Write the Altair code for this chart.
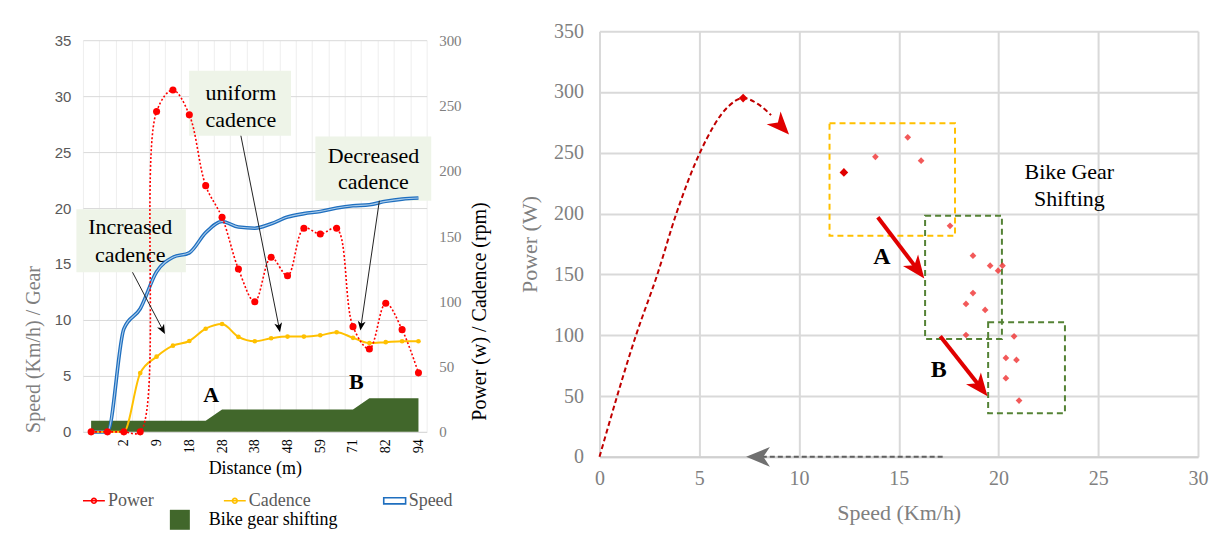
import math
import altair as alt
import pandas as pd

SERIF = "Liberation Serif"
SANS = "Liberation Sans"

# ---------------- Left panel: values per distance category ----------------
dist_labels = ["", "", "2", "", "9", "", "18", "", "28", "", "38", "", "48", "", "59", "", "71", "", "82", "", "94"]
speed_kmh = [0, 0, 9.2, 11.0, 14.3, 15.6, 16.0, 17.8, 18.8, 18.3, 18.2, 18.6, 19.2, 19.5, 19.7, 20.0, 20.2, 20.3, 20.6, 20.8, 20.9]
cadence_rpm = [0, 0, 0, 45, 57.6, 66, 69.6, 79, 82.6, 72.7, 69.4, 71.7, 73, 73, 74, 76.3, 72, 68, 68.7, 69.4, 69.4]
power_w = [0, 0, 0, 0, 245.4, 261.8, 242.8, 188.6, 164.3, 124.7, 99.7, 133.7, 119.6, 155.9, 151.5, 155.9, 80.6, 63.5, 98.5, 78.3, 45.2]
gear_level = [1, 1, 1, 1, 1, 1, 1, 1, 2, 2, 2, 2, 2, 2, 2, 2, 2, 3, 3, 3, 3]
pc_names = ["Power", "Cadence"]
speed_name = "Speed"
gear_name = "Bike gear shifting"

# left annotations (category index / left-axis units)
note_box_x1 = [-0.9, 5.99, 13.7]
note_box_x2 = [5.79, 12.21, 20.78]
note_box_y1 = [14.26, 26.46, 20.65]
note_box_y2 = [19.9, 32.26, 26.4]
note_text = ["Increased", "cadence", "uniform", "cadence", "Decreased", "cadence"]
note_text_x = [2.39, 2.39, 9.15, 9.15, 17.25, 17.25]
note_text_y = [18.3, 15.8, 30.27, 27.86, 24.67, 22.29]
note_arrow_x1 = [2.53, 9.15, 17.61]
note_arrow_y1 = [14.26, 26.46, 20.65]
note_arrow_x2 = [4.51, 11.54, 16.45]
note_arrow_y2 = [8.75, 8.9, 9.05]
shift_text = ["A", "B"]
shift_text_x = [7.34, 16.2]
shift_text_y = [3.3, 4.46]

# ---------------- Right panel: power vs speed ----------------
rise_speed = [0, 1.83, 2.9, 3.85, 5.03, 6.45, 7.2, 7.95, 8.6]
rise_power = [0, 100, 150, 200, 250, 288, 295, 290, 281]
rise_tip = (9.5, 265)
scatter_speed = [13.83, 15.45, 16.12, 17.57, 18.72, 19.58, 19.98, 20.2, 18.72, 18.37, 19.33, 18.37, 20.78, 20.37, 20.9, 20.37, 21.03]
scatter_power = [246.7, 262.7, 243.5, 190, 165.4, 157.2, 153.1, 157.2, 134.7, 125.7, 120.8, 100.2, 99.1, 81.3, 79.7, 64.7, 46.3]
key_speed = [7.2, 12.25]
key_power = [295, 233.9]
box_x1 = [11.53, 16.32, 19.48]
box_x2 = [17.82, 20.17, 23.33]
box_y1 = [181.7, 97, 35.9]
box_y2 = [274.3, 198.3, 110.7]
box_kind = ["high", "gear", "gear"]
shift_arrow_x1 = [13.95, 17.08]
shift_arrow_y1 = [197, 99.2]
shift_arrow_x2 = [16.28, 19.45]
shift_arrow_y2 = [146.7, 49.9]
stop_arrow = [(17.2, 0), (7.35, 0)]
r_label = ["A", "B"]
r_label_x = [14.15, 17.0]
r_label_y = [164, 71]
gs_text = ["Bike Gear", "Shifting"]
gs_x = [23.55, 23.55]
gs_y = [234.2, 212]

# ---------------- layout constants ----------------
W1, H1 = 344, 392
W2, H2 = 599, 426
SXL, SYL = W1 / 21, H1 / 35
SXR, SYR = W2 / 30, H2 / 350
STEALTH = "M0,0L0.75,1.8L0,1.3L-0.75,1.8Z"
LINE_DOT = "M-1,0L1,0M-0.22,0A0.22,0.22,0,1,1,0.22,0A0.22,0.22,0,1,1,-0.22,0"
DOUBLE_LINE = "M-1,-0.28L1,-0.28L1,0.28L-1,0.28Z"


def head_angle(x1, y1, x2, y2, sx, sy):
    dx = (x2 - x1) * sx
    dy = -(y2 - y1) * sy
    return math.degrees(math.atan2(dx, -dy)) % 360


def pull_back(x1, y1, x2, y2, sx, sy, px):
    dx = (x2 - x1) * sx
    dy = (y2 - y1) * sy
    L = math.hypot(dx, dy)
    f = max(0.0, (L - px) / L)
    return x1 + (x2 - x1) * f, y1 + (y2 - y1) * f


cat = list(range(len(dist_labels)))
label_expr = "[" + ",".join("'%s'" % s for s in dist_labels) + "][round(datum.value + 0.5)] || ''"

x_axis_L = alt.Axis(values=[k - 0.5 for k in range(22)], labelExpr=label_expr, labelOffset=W1 / 42,
                    labelAngle=270, labelOverlap=False, labelFlush=False, grid=True, gridColor="#EEEEEE",
                    ticks=False, domainColor="#D9D9D9", labelFont=SERIF, labelFontSize=14, labelColor="#000000",
                    labelPadding=7, title="Distance (m)", titleFont=SERIF, titleFontSize=18,
                    titleFontWeight="normal", titleColor="#000000", titlePadding=7)


def xL(field):
    return alt.X(field, type="quantitative", scale=alt.Scale(domain=[-0.5, 20.5], nice=False, zero=False), axis=x_axis_L)


y_axis_L = alt.Axis(values=list(range(0, 36, 5)), grid=True, gridColor="#D9D9D9", domain=False, ticks=False,
                    labelFont=SANS, labelFontSize=15, labelColor="#595959", labelPadding=12,
                    title="Speed (Km/h) / Gear", titleFont=SERIF, titleFontSize=20, titleFontWeight="normal",
                    titleColor="#7F7F7F", titleAlign="center", titleY=309, titlePadding=11)


def yL(field, show=True):
    if show:
        return alt.Y(field, type="quantitative", scale=alt.Scale(domain=[0, 35], nice=False), axis=y_axis_L)
    return alt.Y(field, type="quantitative", scale=alt.Scale(domain=[0, 35], nice=False), axis=None)


y_axis_R = alt.Axis(orient="right", values=list(range(0, 301, 50)), grid=False, domain=False, ticks=False,
                    labelFont=SERIF, labelFontSize=15, labelColor="#808080", labelPadding=12,
                    title="Power (w) / Cadence (rpm)", titleFont=SERIF, titleFontSize=20,
                    titleFontWeight="normal", titleColor="#000000", titleAngle=270, titleAlign="center",
                    titleY=271, titlePadding=28)


def yR(field):
    return alt.Y(field, type="quantitative", scale=alt.Scale(domain=[0, 300], nice=False), axis=y_axis_R)


pc_legend = alt.Legend(orient="none", legendX=-1, legendY=458, direction="horizontal", columns=2,
                       columnPadding=66, title=None, labelFont=SERIF, labelFontSize=18,
                       labelColor="#595959", labelOffset=2, symbolType=LINE_DOT, symbolSize=480,
                       symbolStrokeWidth=1.6, symbolDash=[])
color_enc = alt.Color("s:N", scale=alt.Scale(domain=pc_names, range=["#FF0000", "#FFC000"]), legend=pc_legend)
speed_legend = alt.Legend(orient="none", legendX=300, legendY=458, title=None, labelFont=SERIF,
                          labelFontSize=18, labelColor="#595959", labelOffset=2, symbolType=DOUBLE_LINE,
                          symbolSize=480, symbolStrokeWidth=1.6)
stroke_enc = alt.Stroke("s:N", scale=alt.Scale(domain=[speed_name], range=["#1F6FBF"]), legend=speed_legend)

df_speed = pd.DataFrame({"i": cat, "v": speed_kmh, "s": speed_name})
df_cad = pd.DataFrame({"i": cat, "v": cadence_rpm, "s": "Cadence"})
df_pow = pd.DataFrame({"i": cat, "v": power_w, "s": "Power"})
df_gear = pd.DataFrame({"i": cat, "v": gear_level, "g": gear_name})

df_boxL = pd.DataFrame({"x1": note_box_x1, "x2": note_box_x2, "y1": note_box_y1, "y2": note_box_y2})
df_textL = pd.DataFrame({"x": note_text_x, "y": note_text_y, "t": note_text})
df_abL = pd.DataFrame({"x": shift_text_x, "y": shift_text_y, "t": shift_text})
arr_rows, head_rows = [], []
for k in range(len(note_arrow_x1)):
    x1, y1, x2, y2 = note_arrow_x1[k], note_arrow_y1[k], note_arrow_x2[k], note_arrow_y2[k]
    ex, ey = pull_back(x1, y1, x2, y2, SXL, SYL, 5)
    arr_rows += [{"id": k, "o": 0, "x": x1, "y": y1}, {"id": k, "o": 1, "x": ex, "y": ey}]
    head_rows.append({"x": x2, "y": y2, "ang": head_angle(x1, y1, x2, y2, SXL, SYL)})
df_arrL = pd.DataFrame(arr_rows)
df_headL = pd.DataFrame(head_rows)

boxesL = alt.Chart(df_boxL).mark_rect(color="#EEF4E8").encode(
    x=xL("x1"), x2="x2", y=yL("y1"), y2="y2")
gear_area = alt.Chart(df_gear).mark_area(interpolate="linear").encode(
    x=xL("i"), y=yL("v"),
    fill=alt.Fill("g:N", scale=alt.Scale(domain=[gear_name], range=["#41672B"]),
                  legend=alt.Legend(orient="none", legendX=87, legendY=479, title=None, symbolType="square",
                                    symbolSize=400, symbolStrokeWidth=0, labelFont=SERIF, labelFontSize=18,
                                    labelColor="#000000", labelOffset=19)))
speed_outer = alt.Chart(df_speed).mark_line(interpolate="monotone", strokeWidth=3.6).encode(
    x=xL("i"), y=yL("v"), stroke=stroke_enc)
speed_inner = alt.Chart(df_speed).mark_line(interpolate="monotone", strokeWidth=1.1, color="#A9CBEA").encode(
    x=xL("i"), y=yL("v"))
left_back = alt.layer(boxesL, gear_area, speed_outer, speed_inner)

cad_line = alt.Chart(df_cad).mark_line(interpolate="monotone", strokeWidth=2).encode(
    x=xL("i"), y=yR("v"), color=color_enc)
cad_pts = alt.Chart(df_cad).mark_circle(size=22, color="#FFC000", opacity=1).encode(x=xL("i"), y=yR("v"))
pow_line = alt.Chart(df_pow).mark_line(interpolate="catmull-rom", strokeWidth=1.6, strokeDash=[2, 2]).encode(
    x=xL("i"), y=yR("v"), color=color_enc)
pow_pts = alt.Chart(df_pow).mark_circle(size=50, color="#FF0000", opacity=1).encode(x=xL("i"), y=yR("v"))
right_mid = alt.layer(cad_line, cad_pts, pow_line, pow_pts)

textL = alt.Chart(df_textL).mark_text(font=SERIF, fontSize=22, color="#000000").encode(
    x=xL("x"), y=yL("y", False), text="t:N")
abL = alt.Chart(df_abL).mark_text(font=SERIF, fontSize=22, fontWeight="bold", color="#000000").encode(
    x=xL("x"), y=yL("y", False), text="t:N")
arrowsL = alt.Chart(df_arrL).mark_line(color="#222222", strokeWidth=1).encode(
    x=xL("x"), y=yL("y", False), detail="id:N", order="o:Q")
headsL = alt.Chart(df_headL).mark_point(shape=STEALTH, filled=True, color="#000000", size=110, opacity=1).encode(
    x=xL("x"), y=yL("y", False), angle=alt.Angle("ang:Q", scale=None))
left_front = alt.layer(textL, abL, arrowsL, headsL)

left_main = alt.layer(left_back, right_mid, left_front).resolve_scale(y="independent").properties(
    width=W1, height=H1)
spacer = alt.Chart(pd.DataFrame({"v": [0]})).mark_point(size=0, opacity=0).encode(
    x=alt.X("v:Q", axis=None), y=alt.Y("v:Q", axis=None)).properties(width=W1, height=1)
left = alt.vconcat(spacer, left_main, spacing=1)

# ---------------- right panel ----------------
x_axis_R = alt.Axis(values=list(range(0, 31, 5)), grid=True, gridColor="#D9D9D9", gridWidth=2, ticks=False,
                    labelFlush=False, domainColor="#D0D0D0", domainWidth=2, labelFont=SERIF, labelFontSize=20,
                    labelColor="#808080", labelPadding=12, title="Speed (Km/h)", titleFont=SERIF,
                    titleFontSize=22, titleFontWeight="normal", titleColor="#808080", titlePadding=14)
y_axis_R2 = alt.Axis(values=list(range(0, 351, 50)), grid=True, gridColor="#D9D9D9", gridWidth=2, ticks=False,
                     labelFlush=False, domain=False, labelFont=SERIF, labelFontSize=20, labelColor="#808080",
                     labelPadding=16, title="Power (W)", titleFont=SERIF, titleFontSize=22,
                     titleFontWeight="normal", titleColor="#808080", titlePadding=12)


def xR(field):
    return alt.X(field, type="quantitative", scale=alt.Scale(domain=[0, 30], nice=False), axis=x_axis_R)


def yR2(field):
    return alt.Y(field, type="quantitative", scale=alt.Scale(domain=[0, 350], nice=False), axis=y_axis_R2)


df_box = pd.DataFrame({"x1": box_x1, "x2": box_x2, "y1": box_y1, "y2": box_y2, "k": box_kind})
df_rise = pd.DataFrame({"x": rise_speed, "y": rise_power})
df_sc = pd.DataFrame({"x": scatter_speed, "y": scatter_power})
df_key = pd.DataFrame({"x": key_speed, "y": key_power})
df_rl = pd.DataFrame({"x": r_label_x, "y": r_label_y, "t": r_label})
df_gs = pd.DataFrame({"x": gs_x, "y": gs_y, "t": gs_text})

red_rows, red_heads = [], []
for k in range(len(shift_arrow_x1)):
    x1, y1, x2, y2 = shift_arrow_x1[k], shift_arrow_y1[k], shift_arrow_x2[k], shift_arrow_y2[k]
    ex, ey = pull_back(x1, y1, x2, y2, SXR, SYR, 12)
    red_rows += [{"id": k, "o": 0, "x": x1, "y": y1}, {"id": k, "o": 1, "x": ex, "y": ey}]
    red_heads.append({"x": x2, "y": y2, "ang": head_angle(x1, y1, x2, y2, SXR, SYR)})
red_heads.append({"x": rise_tip[0], "y": rise_tip[1],
                  "ang": head_angle(rise_speed[-1], rise_power[-1], rise_tip[0], rise_tip[1], SXR, SYR)})
df_red = pd.DataFrame(red_rows)
df_redh = pd.DataFrame(red_heads)
(sx1, sy1), (sx2, sy2) = stop_arrow
gex, gey = pull_back(sx1, sy1, sx2, sy2, SXR, SYR, 16)
df_gray = pd.DataFrame({"x": [sx1, gex], "y": [sy1, gey], "o": [0, 1]})
df_grayh = pd.DataFrame({"x": [sx2], "y": [sy2], "ang": [head_angle(sx1, sy1, sx2, sy2, SXR, SYR)]})

boxes_hi = alt.Chart(df_box).transform_filter("datum.k == 'high'").mark_rect(
    filled=False, color="#FFC000", strokeWidth=2, strokeDash=[6, 4]).encode(
    x=xR("x1"), x2="x2", y=yR2("y1"), y2="y2")
boxes_gear = alt.Chart(df_box).transform_filter("datum.k == 'gear'").mark_rect(
    filled=False, color="#548235", strokeWidth=2, strokeDash=[6, 4]).encode(
    x=xR("x1"), x2="x2", y=yR2("y1"), y2="y2")
rise = alt.Chart(df_rise).mark_line(interpolate="monotone", color="#C00000", strokeWidth=2,
                                    strokeDash=[5, 3]).encode(x=xR("x"), y=yR2("y"), order="x:Q")
scatter = alt.Chart(df_sc).mark_point(shape="diamond", filled=True, color="#F03C3C", opacity=0.85,
                                      size=45).encode(x=xR("x"), y=yR2("y"))
keys = alt.Chart(df_key).mark_point(shape="diamond", filled=True, color="#E00000", opacity=1,
                                    size=75).encode(x=xR("x"), y=yR2("y"))
red_lines = alt.Chart(df_red).mark_line(color="#E00000", strokeWidth=4).encode(
    x=xR("x"), y=yR2("y"), detail="id:N", order="o:Q")
red_head = alt.Chart(df_redh).mark_point(shape=STEALTH, filled=True, color="#E00000", size=640,
                                         opacity=1).encode(x=xR("x"), y=yR2("y"),
                                                           angle=alt.Angle("ang:Q", scale=None))
gray_line = alt.Chart(df_gray).mark_line(color="#606060", strokeWidth=2, strokeDash=[5, 3]).encode(
    x=xR("x"), y=yR2("y"), order="o:Q")
gray_head = alt.Chart(df_grayh).mark_point(shape=STEALTH, filled=True, color="#707070", size=700,
                                           opacity=1).encode(x=xR("x"), y=yR2("y"),
                                                             angle=alt.Angle("ang:Q", scale=None))
rlab = alt.Chart(df_rl).mark_text(font=SERIF, fontSize=24, fontWeight="bold", color="#000000").encode(
    x=xR("x"), y=yR2("y"), text="t:N")
gslab = alt.Chart(df_gs).mark_text(font=SERIF, fontSize=22, color="#000000").encode(
    x=xR("x"), y=yR2("y"), text="t:N")

right = alt.layer(boxes_hi, boxes_gear, rise, scatter, keys, gray_line, gray_head, red_lines, red_head,
                  rlab, gslab).properties(width=W2, height=H2)

chart = alt.hconcat(left, right, spacing=29).configure_view(stroke=None).properties(
    padding={"left": 15, "top": 13, "right": 2, "bottom": 0}, background="white")

chart.save("out.html", embed_options={"renderer": "svg", "actions": False})
